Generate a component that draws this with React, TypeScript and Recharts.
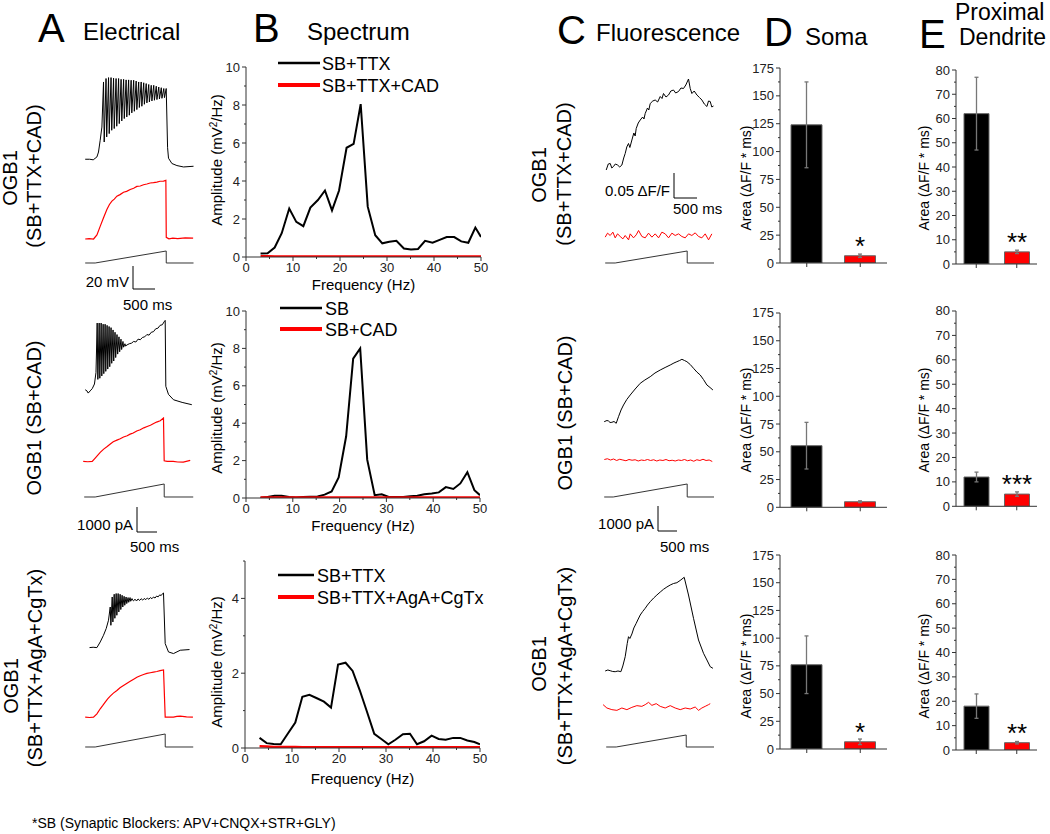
import React from "react";
import {
  LineChart,
  Line,
  XAxis,
  YAxis,
  BarChart,
  Bar,
  Cell,
  ErrorBar,
  LabelList,
} from "recharts";

const FONT = "'Liberation Sans', Arial, Helvetica, sans-serif";
const RED = "#ff0000";

// ---------- B: spectra (Hz -> mV^2/Hz) ----------
const freqs = [3.1, 4.6, 6.1, 7.6, 9.2, 10.7, 12.2, 13.7, 15.3, 16.8, 18.3, 19.8, 21.4, 22.9, 24.4, 25.9,
  27.5, 29.0, 30.5, 32.0, 33.6, 35.1, 36.6, 38.1, 39.7, 41.2, 42.7, 44.3, 45.8, 47.3, 48.8, 50.0];

const spec1Ctrl = [0.18, 0.2, 0.5, 1.25, 2.55, 1.85, 1.62, 2.6, 3.0, 3.5, 2.45, 3.5, 5.75, 5.95, 8.05, 2.65,
  1.15, 0.72, 0.8, 0.85, 0.45, 0.4, 0.42, 0.85, 0.75, 0.9, 1.05, 1.05, 0.82, 0.75, 1.55, 1.05];
const spec1Blk = [0.04, 0.04, 0.03, 0.03, 0.03, 0.03, 0.03, 0.03, 0.03, 0.03, 0.03, 0.03, 0.03, 0.03, 0.03, 0.03,
  0.03, 0.03, 0.03, 0.03, 0.03, 0.03, 0.03, 0.03, 0.03, 0.03, 0.03, 0.03, 0.03, 0.03, 0.03, 0.03];

const spec2Ctrl = [0.02, 0.05, 0.12, 0.12, 0.05, 0.03, 0.06, 0.07, 0.08, 0.18, 0.35, 1.1, 3.3, 7.45, 8.0, 2.05,
  0.15, 0.2, 0.06, 0.06, 0.05, 0.1, 0.12, 0.2, 0.24, 0.3, 0.58, 0.48, 0.78, 1.38, 0.42, 0.15];
const spec2Blk = [0.03, 0.03, 0.03, 0.03, 0.03, 0.03, 0.03, 0.03, 0.03, 0.03, 0.03, 0.03, 0.03, 0.03, 0.03, 0.03,
  0.03, 0.03, 0.03, 0.03, 0.03, 0.03, 0.03, 0.03, 0.03, 0.03, 0.03, 0.03, 0.03, 0.03, 0.03, 0.03];

const spec3Ctrl = [0.27, 0.13, 0.11, 0.1, 0.4, 0.68, 1.37, 1.42, 1.33, 1.24, 1.08, 2.23, 2.28, 2.06, 1.55, 0.99,
  0.38, 0.24, 0.1, 0.22, 0.37, 0.38, 0.1, 0.18, 0.33, 0.24, 0.22, 0.27, 0.27, 0.2, 0.16, 0.1];
const spec3Blk = [0.05, 0.04, 0.03, 0.03, 0.03, 0.03, 0.02, 0.02, 0.02, 0.02, 0.02, 0.02, 0.02, 0.02, 0.02, 0.02,
  0.02, 0.02, 0.02, 0.02, 0.02, 0.02, 0.02, 0.02, 0.02, 0.02, 0.02, 0.02, 0.02, 0.02, 0.02, 0.02];

const specLegends = [
  ["SB+TTX", "SB+TTX+CAD"],
  ["SB", "SB+CAD"],
  ["SB+TTX", "SB+TTX+AgA+CgTx"],
];

// ---------- D / E: areas (dF/F * ms) ----------
const barGroups = ["control", "blocker"];
const somaMean = [[124, 6.5], [55.5, 5], [76, 6.5]];
const somaErr = [[38.5, 1.5], [21, 0.8], [26, 2.5]];
const somaSig = [["", "*"], ["", ""], ["", "*"]];
const dendMean = [[62, 5], [12, 5], [18, 3]];
const dendErr = [[15, 0.7], [2, 0.9], [5, 0.5]];
const dendSig = [["", "**"], ["", "***"], ["", "**"]];

// ---------- A: electrical traces [ms, mV] / [ms, pA] ----------
const a1Volt = [
  [0, -65], [100, -65], [182, -65.5], [266, -63], [302, -58.7], [340, -48.5], [379, -37],
  [416, 2.2], [431, -50], [473, 5.2], [488, -45.6], [530, 6], [545, -42.7], [587, 6], [602, -39.8],
  [644, 5.5], [659, -38.3], [701, 5.2], [716, -36.3], [758, 5.2], [773, -34], [815, 4.5], [830, -31.7],
  [872, 4.5], [887, -29.6], [929, 4], [944, -28.2], [986, 4], [1001, -26.7], [1043, 3.7], [1058, -24.7],
  [1100, 3.7], [1115, -23.3], [1157, 3], [1172, -21.8], [1214, 2.2], [1229, -20], [1271, 2.2], [1286, -18.9],
  [1328, 1.5], [1343, -17.2], [1385, 0.8], [1400, -16], [1442, 0], [1457, -15.2], [1499, -0.7], [1514, -14.3],
  [1556, -0.7], [1571, -13.7], [1613, -1.5], [1628, -13.1], [1670, -2.2], [1685, -12.6], [1727, -2.8], [1742, -12],
  [1784, -3.5], [1799, -11.4], [1839, -3.5], [1855, -30], [1870, -55], [1891, -64.1], [1968, -68.7], [2082, -70.5],
  [2232, -71.7], [2459, -71.1],
];
const a2Volt = [
  [0, -65], [40, -66], [68, -67.9], [113, -66], [160, -64], [210, -60], [245, -50],
  [272, -7], [287, -56], [317, -7], [332, -55], [362, -7], [377, -53], [407, -8], [422, -51], [452, -8], [467, -49],
  [497, -9], [512, -47], [542, -10], [557, -45], [587, -11], [602, -42], [632, -13], [647, -40], [677, -15], [692, -37],
  [722, -17], [737, -34], [767, -19], [782, -32], [812, -21], [827, -30], [857, -23], [872, -28], [902, -25], [917, -27],
  [950, -26], [1000, -25], [1050, -24.5], [1100, -23], [1150, -23.5], [1200, -21], [1250, -21.5], [1300, -19.5],
  [1350, -19], [1400, -17], [1450, -17.5], [1500, -15], [1550, -14.5], [1600, -12], [1650, -11.5], [1700, -9],
  [1750, -8.5], [1790, -6], [1816, -4.7], [1830, -62], [1890, -69], [2005, -73.7], [2200, -76], [2420, -78],
];
const a3Volt = [
  [98, -65.3], [180, -65], [266, -65.3], [341, -60.4], [415, -54.6], [477, -48.7], [529, -41.5],
  [568, -30], [583, -45.9], [613, -21.3], [628, -43], [658, -18.9], [673, -39.8], [703, -18.3], [718, -37.2],
  [748, -18.3], [763, -34.3], [793, -18.9], [808, -32.2], [838, -19.8], [853, -30], [883, -20.7], [898, -28.5],
  [928, -21.3], [943, -27], [973, -21.8], [988, -25.9], [1018, -21.8], [1033, -25], [1063, -22.7], [1078, -24.1],
  [1096, -24.7], [1130, -23.2], [1165, -24.8], [1200, -23], [1235, -24.3], [1270, -22.8], [1305, -24], [1340, -22.6],
  [1375, -23.6], [1410, -22.2], [1445, -23.3], [1480, -21.8], [1515, -22.8], [1550, -21.3], [1585, -22.2], [1620, -20.5],
  [1655, -21.2], [1690, -19.5], [1725, -20], [1760, -18.2], [1777, -17.8],
  [1816, -61.8], [1891, -69.1], [2004, -70.5], [2157, -67.6], [2368, -67],
];
const a1Red = [
  [0, -65], [90, -64.6], [190, -65], [266, -61.5], [340, -54], [416, -46.6], [492, -39.4], [550, -35], [606, -32.1],
  [660, -30.3], [719, -27.8], [790, -26.4], [870, -24.3], [940, -23.6], [1022, -22], [1100, -20.9], [1173, -19.3],
  [1250, -18.9], [1324, -17.8], [1400, -17.2], [1475, -16.3], [1550, -16], [1627, -15.5], [1700, -14.8], [1778, -14.6],
  [1831, -14], [1840, -63.5], [1900, -64.8], [1990, -64.3], [2100, -64.6], [2270, -64], [2450, -64.3],
];
const a2Red = [
  [-45, -64.7], [60, -65], [159, -64.7], [227, -61.8], [341, -56.9], [420, -54], [499, -51.7], [570, -49.5], [636, -47.6],
  [720, -46.2], [795, -45], [870, -43.5], [953, -42.4], [1020, -41], [1090, -40], [1170, -38.3], [1249, -37.2],
  [1330, -35.5], [1407, -34.3], [1480, -33.3], [1544, -32], [1620, -30.5], [1703, -29.3], [1777, -27],
  [1793, -64.1], [1861, -64.7], [1998, -64.7], [2100, -65.2], [2225, -65.3], [2384, -63.8],
];
const a3Red = [
  [0, -64.7], [100, -65], [188, -64.7], [266, -61.8], [341, -57.4], [400, -54.5], [454, -51.6], [510, -48.8],
  [568, -46.4], [640, -43.8], [720, -41.5], [790, -39.2], [869, -37.2], [950, -35.2], [1022, -33.5], [1100, -31.7],
  [1173, -30], [1250, -28.7], [1324, -27.6], [1400, -26.7], [1476, -26.1], [1550, -25.5], [1627, -25], [1700, -24.3],
  [1778, -23.6], [1816, -64.7], [1900, -64.7], [2004, -64.7], [2080, -64], [2157, -63.8], [2300, -64.5], [2445, -64.7],
];
const a1Ramp = [[0, 0], [227, 0], [1839, 480], [1840, 0], [2459, 0]];
const a2Ramp = [[-23, 0], [227, 0], [1793, 520], [1794, 0], [2452, 0]];
const a3Ramp = [[0, 0], [227, 0], [1816, 520], [1817, 0], [2452, 0]];

// ---------- C: fluorescence traces [ms, % dF/F] ----------
const c1Fluo = [
  [23, 0], [70, 1.2], [114, 1.3], [150, 0.4], [188, 0.7], [230, 1.2], [279, 1], [330, 0.6], [379, 1], [420, 2.4],
  [454, 3.3], [490, 4.6], [529, 5.3], [560, 4.5], [606, 6], [650, 7.4], [680, 6.8], [704, 8.3], [750, 9.4], [795, 10],
  [850, 10.6], [880, 10.2], [908, 11.3], [960, 12.4], [990, 12], [1022, 13.3], [1080, 13.8], [1135, 14], [1190, 13.6],
  [1249, 14.7], [1290, 14.3], [1323, 15.3], [1380, 14.6], [1437, 15], [1490, 15.8], [1550, 16], [1600, 15.4],
  [1664, 15.7], [1720, 16.4], [1777, 16.3], [1830, 17], [1891, 18.2], [1930, 16.3], [1968, 15.3], [2020, 15.8],
  [2082, 15], [2140, 14.5], [2195, 14], [2250, 13.2], [2309, 12.7], [2345, 13.8], [2384, 13.7], [2420, 12.6], [2458, 12.8],
];
const c2Fluo = [
  [-23, 0.06], [40, 0.3], [75, 0.2], [110, -0.1], [152, -0.06], [200, 0.1], [250, -0.26], [302, 1.06], [360, 2.4],
  [416, 3.4], [490, 4.5], [568, 5.4], [680, 6.6], [795, 7.74], [900, 8.4], [1022, 9.06], [1130, 9.8], [1249, 10.4],
  [1360, 10.9], [1476, 11.4], [1560, 11.8], [1627, 12.06], [1690, 12.3], [1741, 12.54], [1800, 12.3], [1854, 12.06],
  [1930, 11.5], [2005, 10.74], [2080, 10], [2157, 9.4], [2230, 8.5], [2309, 7.4], [2380, 6.9], [2445, 6.4],
];
const c3Fluo = [
  [0, 0], [60, 0.2], [113, 0.06], [170, -0.1], [227, -0.14], [290, 0], [356, -0.14], [400, 1], [454, 2.86], [500, 5.5],
  [529, 6.86], [560, 6.5], [606, 7.4], [650, 8.6], [704, 9.54], [750, 10.4], [795, 11.2], [850, 11.9], [908, 12.54],
  [960, 13.2], [1022, 13.86], [1100, 14.6], [1173, 15.2], [1250, 15.8], [1323, 16.34], [1400, 16.8], [1476, 17.2],
  [1550, 17.5], [1627, 17.66], [1700, 18.1], [1793, 18.74], [1891, 15.2], [2005, 10.54], [2118, 6.2], [2232, 3.54],
  [2309, 2.2], [2384, 0.86], [2445, 0.54],
];
const c1Red = [
  [0, -0.43], [53, 0.37], [113, -0.1], [174, 0.57], [227, -0.57], [280, 0.23], [341, -0.3], [401, -0.77], [454, -0.1],
  [530, -0.97], [568, 0.23], [643, -0.57], [704, 0.03], [757, 0.9], [833, -0.3], [908, -0.57], [984, 0.37], [1060, -0.43],
  [1135, 0.23], [1211, -0.57], [1287, 0.57], [1362, 0.23], [1438, -0.57], [1514, 0.37], [1589, -0.1], [1665, 0.23],
  [1740, -0.3], [1816, -0.57], [1892, 0.23], [1967, -0.1], [2043, 0.43], [2119, -0.3], [2194, -0.57], [2270, 0.23],
  [2346, -0.97], [2421, 0.23],
];
const c2Red = [
  [-20, 0.1], [50, 0.25], [120, 0], [190, 0.2], [260, -0.1], [330, 0.15], [400, 0], [470, -0.15], [540, 0.1],
  [610, -0.05], [680, 0.05], [750, -0.2], [820, 0], [890, -0.1], [960, 0.1], [1030, -0.1], [1100, 0.05], [1170, -0.2],
  [1240, 0], [1310, -0.1], [1380, 0.1], [1450, -0.15], [1520, -0.05], [1590, -0.2], [1660, 0], [1730, -0.1],
  [1800, 0.1], [1870, -0.15], [1940, 0], [2010, -0.25], [2080, 0.05], [2150, -0.1], [2220, 0.15], [2290, -0.1],
  [2360, 0], [2430, -0.3],
];
const c3Red = [
  [-48, 0.67], [38, 0], [151, -0.33], [265, -0.47], [378, 0], [492, -0.33], [605, 0.13], [719, 0.47], [832, 0.33],
  [908, 0.67], [984, 1.13], [1060, 0.53], [1158, 0.87], [1249, 0.33], [1362, 0], [1476, 0.47], [1589, 0], [1703, -0.33],
  [1816, 0], [1930, -0.2], [2043, 0.2], [2119, -0.47], [2194, 0], [2270, 0.33], [2346, 0.67], [2384, 0.87],
];
const c1Ramp = [[0, 0], [227, 0], [1861, 480], [1862, 0], [2470, 0]];
const c2Ramp = [[-23, 0], [182, 0], [1861, 520], [1862, 0], [2474, 0]];
const c3Ramp = [[23, 0], [250, 0], [1839, 480], [1840, 0], [2474, 0]];

// ---------- layout ----------
const MS_PER_PX = 22.7;
const T_DOM: [number, number] = [-50, 2480];
const TRACE_W = (T_DOM[1] - T_DOM[0]) / MS_PER_PX;

type TraceSpec = {
  pts: number[][];
  x0: number; // page x of t = 0
  k: number; // px per unit
  base: [number, number]; // [value, page y]
  vDom: [number, number];
  color: string;
  sw?: number;
};

const traces: TraceSpec[] = [
  { pts: a1Volt, x0: 85, k: 1.15, base: [-65, 159], vDom: [-80, 10], color: "#000" },
  { pts: a1Red, x0: 85, k: 1.15, base: [-65, 239], vDom: [-75, -5], color: RED, sw: 1.2 },
  { pts: a1Ramp, x0: 85, k: 0.025, base: [0, 263], vDom: [-100, 600], color: "#333" },
  { pts: a2Volt, x0: 85, k: 1.15, base: [-65, 390], vDom: [-85, 0], color: "#000" },
  { pts: a2Red, x0: 85, k: 1.15, base: [-65, 462], vDom: [-75, -20], color: RED, sw: 1.2 },
  { pts: a2Ramp, x0: 85, k: 0.025, base: [0, 497], vDom: [-100, 600], color: "#333" },
  { pts: a3Volt, x0: 85, k: 1.15, base: [-65, 647], vDom: [-80, -10], color: "#000" },
  { pts: a3Red, x0: 85, k: 1.15, base: [-65, 717], vDom: [-75, -15], color: RED, sw: 1.2 },
  { pts: a3Ramp, x0: 85, k: 0.025, base: [0, 747], vDom: [-100, 600], color: "#333" },
  { pts: c1Fluo, x0: 605, k: 5, base: [0, 170], vDom: [-2, 20], color: "#000" },
  { pts: c1Red, x0: 605, k: 5, base: [0, 234.5], vDom: [-3, 3], color: RED },
  { pts: c1Ramp, x0: 605, k: 0.025, base: [0, 263], vDom: [-100, 600], color: "#333" },
  { pts: c2Fluo, x0: 605, k: 5, base: [0, 422], vDom: [-2, 14], color: "#000" },
  { pts: c2Red, x0: 605, k: 5, base: [0, 460], vDom: [-3, 3], color: RED },
  { pts: c2Ramp, x0: 605, k: 0.025, base: [0, 497], vDom: [-100, 600], color: "#333" },
  { pts: c3Fluo, x0: 605, k: 5, base: [0, 671], vDom: [-2, 20], color: "#000" },
  { pts: c3Red, x0: 605, k: 5, base: [0, 708.3], vDom: [-3, 3], color: RED },
  { pts: c3Ramp, x0: 605, k: 0.025, base: [0, 747], vDom: [-100, 600], color: "#333" },
];

function Trace({ spec }: { spec: TraceSpec }) {
  const { pts, x0, k, base, vDom, color, sw = 1 } = spec;
  const data = pts.map(([t, v]) => ({ t, v }));
  const top = base[1] - (vDom[1] - base[0]) * k;
  const height = (vDom[1] - vDom[0]) * k;
  const left = x0 + T_DOM[0] / MS_PER_PX;
  return (
    <div style={{ position: "absolute", left, top }}>
      <LineChart width={TRACE_W} height={height} data={data} margin={{ top: 0, right: 0, bottom: 0, left: 0 }}>
        <XAxis dataKey="t" type="number" domain={T_DOM} hide allowDataOverflow />
        <YAxis type="number" domain={vDom} hide allowDataOverflow />
        <Line dataKey="v" type="linear" stroke={color} strokeWidth={sw} dot={false} isAnimationActive={false} />
      </LineChart>
    </div>
  );
}

// ticks: draw line + label ourselves (tickSize/tickMargin = 0 so x,y sit on the axis)
const yTick = (isMajor: (v: number) => boolean, fs = 13) => (p: any) => {
  const { x, y, payload } = p;
  const major = isMajor(payload.value);
  return (
    <g>
      <line x1={x} y1={y} x2={x - (major ? 4 : 2)} y2={y} stroke="#333" strokeWidth={1} />
      {major && (
        <text x={x - 6} y={y + 4.5} textAnchor="end" fontSize={fs} fill="#222" fontFamily={FONT}>
          {payload.value}
        </text>
      )}
    </g>
  );
};
const xTick = (isMajor: (v: number) => boolean) => (p: any) => {
  const { x, y, payload } = p;
  const major = isMajor(payload.value);
  return (
    <g>
      <line x1={x} y1={y} x2={x} y2={y + (major ? 4 : 2)} stroke="#333" strokeWidth={1} />
      {major && (
        <text x={x} y={y + 15} textAnchor="middle" fontSize={13} fill="#222" fontFamily={FONT}>
          {payload.value}
        </text>
      )}
    </g>
  );
};
const catTick = (p: any) => (
  <line x1={p.x} y1={p.y} x2={p.x} y2={p.y + 4} stroke="#333" strokeWidth={1} />
);

type Box = { x: number; y: number; w: number; h: number };

const AX_W = 30; // y axis band width
const AX_H = 20; // x axis band height

function Spectrum({ ctrl, blk, box, yMax, yTicks, yMajor }: {
  ctrl: number[]; blk: number[]; box: Box; yMax: number; yTicks: number[]; yMajor: (v: number) => boolean;
}) {
  const data = freqs.map((f, i) => ({ f, a: ctrl[i], b: blk[i] }));
  const T = 10, R = 8;
  return (
    <div style={{ position: "absolute", left: box.x - AX_W - 2, top: box.y - T }}>
      <LineChart width={box.w + AX_W + 2 + R} height={box.h + T + AX_H + 2} data={data}
        margin={{ top: T, right: R, bottom: 2, left: 2 }}>
        <XAxis dataKey="f" type="number" domain={[0, 50]} ticks={[0, 5, 10, 15, 20, 25, 30, 35, 40, 45, 50]}
          interval={0} height={AX_H} tickSize={0} tickMargin={0} tickLine={false} stroke="#333"
          tick={xTick((v) => v % 10 === 0)} allowDataOverflow />
        <YAxis type="number" domain={[0, yMax]} ticks={yTicks} interval={0} width={AX_W} tickSize={0}
          tickMargin={0} tickLine={false} stroke="#333" tick={yTick(yMajor)} allowDataOverflow />
        <Line dataKey="a" type="linear" stroke="#000" strokeWidth={2} dot={false} isAnimationActive={false} />
        <Line dataKey="b" type="linear" stroke={RED} strokeWidth={2.5} dot={false} isAnimationActive={false} />
      </LineChart>
    </div>
  );
}

const starLabel = (p: any) => {
  const { x, y, width, value } = p;
  if (!value) return null;
  return (
    <text x={x + width / 2} y={y - 1} textAnchor="middle" fontSize={26} fill="#000" fontFamily={FONT}>
      {value}
    </text>
  );
};

function AreaBars({ means, errs, sig, box, yMax, step, major, barSize }: {
  means: number[]; errs: number[]; sig: string[]; box: Box; yMax: number; step: number; major: number; barSize: number;
}) {
  const data = barGroups.map((g, i) => ({ g, m: means[i], e: errs[i], s: sig[i] }));
  const ticks: number[] = [];
  for (let v = 0; v <= yMax + 1e-6; v += step) ticks.push(v);
  const T = 10, R = 6, XH = 10;
  return (
    <div style={{ position: "absolute", left: box.x - AX_W - 2, top: box.y - T }}>
      <BarChart width={box.w + AX_W + 2 + R} height={box.h + T + XH + 2} data={data} barSize={barSize}
        margin={{ top: T, right: R, bottom: 2, left: 2 }}>
        <XAxis dataKey="g" height={XH} tickSize={0} tickMargin={0} tickLine={false} interval={0}
          stroke="#333" tick={catTick} />
        <YAxis type="number" domain={[0, yMax]} ticks={ticks} interval={0} width={AX_W} tickSize={0}
          tickMargin={0} tickLine={false} stroke="#333" tick={yTick((v) => Math.abs(v % major) < 1e-6)}
          allowDataOverflow />
        <Bar dataKey="m" stroke="#666" strokeWidth={1} isAnimationActive={false}>
          {data.map((d, i) => (
            <Cell key={d.g} fill={i === 0 ? "#000" : RED} />
          ))}
          <ErrorBar dataKey="e" width={2} stroke="#777" strokeWidth={1.3} direction="y" />
          <LabelList dataKey="s" content={starLabel} />
        </Bar>
      </BarChart>
    </div>
  );
}

const specBoxes: Box[] = [
  { x: 246, y: 67, w: 235, h: 190 },
  { x: 246, y: 311, w: 234, h: 187 },
  { x: 245, y: 561, w: 235, h: 187 },
];
const somaBoxes: Box[] = [
  { x: 780, y: 68, w: 107, h: 195 },
  { x: 780, y: 312.7, w: 107, h: 194.3 },
  { x: 780, y: 555, w: 107, h: 194 },
];
const dendBoxes: Box[] = [
  { x: 956, y: 70, w: 81, h: 194 },
  { x: 956, y: 310.7, w: 81, h: 195.3 },
  { x: 956, y: 555, w: 81, h: 195 },
];
const rowMid = [176, 418, 664];

function VText({ x, y, size, children }: { x: number; y: number; size: number; children: React.ReactNode }) {
  return (
    <text transform={`translate(${x},${y}) rotate(-90)`} textAnchor="middle" fontSize={size} fontFamily={FONT} fill="#000">
      {children}
    </text>
  );
}

function ScaleBar({ x, y, w, h, vLabel, hLabel, hx, hy }: {
  x: number; y: number; w: number; h: number; vLabel: string; hLabel: string; hx: number; hy: number;
}) {
  return (
    <g fontFamily={FONT} fontSize={15}>
      <line x1={x} y1={y - h} x2={x} y2={y} stroke="#000" strokeWidth={1} />
      <line x1={x} y1={y} x2={x + w} y2={y} stroke="#000" strokeWidth={1} />
      <text x={x - 4} y={y - 2} textAnchor="end">{vLabel}</text>
      <text x={hx} y={hy}>{hLabel}</text>
    </g>
  );
}

function Overlay() {
  const legendRows = [
    { y1: 63, y2: 85, tx: 322, l0: 278, l1: 320 },
    { y1: 308, y2: 329, tx: 325, l0: 280, l1: 322 },
    { y1: 575, y2: 597, tx: 317, l0: 278, l1: 314 },
  ];
  return (
    <svg width={1050} height={834} style={{ position: "absolute", left: 0, top: 0, pointerEvents: "none" }}>
      <g fontFamily={FONT} fill="#000">
        <text x={38} y={42} fontSize={40}>A</text>
        <text x={83} y={40} fontSize={24}>Electrical</text>
        <text x={253} y={42} fontSize={40}>B</text>
        <text x={307} y={40} fontSize={24}>Spectrum</text>
        <text x={557} y={44} fontSize={40}>C</text>
        <text x={596} y={41} fontSize={24}>Fluorescence</text>
        <text x={764} y={46} fontSize={40}>D</text>
        <text x={805} y={45} fontSize={24}>Soma</text>
        <text x={919} y={48} fontSize={40}>E</text>
        <text x={955} y={20} fontSize={23}>Proximal</text>
        <text x={959} y={45} fontSize={23}>Dendrite</text>
      </g>

      {/* row labels */}
      <VText x={17} y={178} size={20}>OGB1</VText>
      <VText x={41} y={176} size={20}>(SB+TTX+CAD)</VText>
      <VText x={41} y={418} size={20}>OGB1 (SB+CAD)</VText>
      <VText x={18} y={686} size={20}>OGB1</VText>
      <VText x={42} y={668} size={20}>(SB+TTX+AgA+CgTx)</VText>
      <VText x={546} y={175} size={20}>OGB1</VText>
      <VText x={571} y={174} size={20}>(SB+TTX+CAD)</VText>
      <VText x={572} y={413} size={20}>OGB1 (SB+CAD)</VText>
      <VText x={546} y={664} size={20}>OGB1</VText>
      <VText x={572} y={666} size={20}>(SB+TTX+AgA+CgTx)</VText>

      {/* spectrum axis titles + legends */}
      {specBoxes.map((b, i) => (
        <g key={i}>
          <VText x={222} y={[160, 408, 662][i]} size={15}>
            Amplitude (mV<tspan dy={-5} fontSize={10}>2</tspan><tspan dy={5}>/Hz)</tspan>
          </VText>
          <text x={b.x + b.w / 2} y={[290, 531, 784][i]} textAnchor="middle" fontSize={15} fontFamily={FONT}>
            Frequency (Hz)
          </text>
          <line x1={legendRows[i].l0} x2={legendRows[i].l1} y1={legendRows[i].y1} y2={legendRows[i].y1} stroke="#000" strokeWidth={2.5} />
          <line x1={legendRows[i].l0} x2={legendRows[i].l1} y1={legendRows[i].y2} y2={legendRows[i].y2} stroke={RED} strokeWidth={4} />
          <text x={legendRows[i].tx} y={legendRows[i].y1 + 6.5} fontSize={18} fontFamily={FONT}>{specLegends[i][0]}</text>
          <text x={legendRows[i].tx} y={legendRows[i].y2 + 6.5} fontSize={18} fontFamily={FONT}>{specLegends[i][1]}</text>
        </g>
      ))}

      {/* bar axis titles */}
      {rowMid.map((m, i) => (
        <g key={i}>
          <VText x={751} y={m + 2} size={14}>Area (ΔF/F * ms)</VText>
          <VText x={929} y={m + 2} size={14}>Area (ΔF/F * ms)</VText>
        </g>
      ))}

      {/* scale bars */}
      <ScaleBar x={133} y={289} w={22} h={23} vLabel="20 mV" hLabel="500 ms" hx={123} hy={310} />
      <ScaleBar x={137} y={532} w={20} h={25} vLabel="1000 pA" hLabel="500 ms" hx={130} hy={552} />
      <ScaleBar x={674} y={198} w={23} h={25} vLabel="0.05 ΔF/F" hLabel="500 ms" hx={673} hy={214} />
      <ScaleBar x={658} y={531} w={19} h={25} vLabel="1000 pA" hLabel="500 ms" hx={660} hy={552} />

      <text x={32} y={828} fontSize={14} fontFamily={FONT}>*SB (Synaptic Blockers: APV+CNQX+STR+GLY)</text>
    </svg>
  );
}

export default function App() {
  const specs = [
    { ctrl: spec1Ctrl, blk: spec1Blk, yMax: 10 },
    { ctrl: spec2Ctrl, blk: spec2Blk, yMax: 10 },
    { ctrl: spec3Ctrl, blk: spec3Blk, yMax: 5 },
  ];
  return (
    <div style={{ position: "absolute", left: 0, top: 0, width: 1050, height: 834, background: "#fff", fontFamily: FONT }}>
      {traces.map((t, i) => (
        <Trace key={i} spec={t} />
      ))}
      {specs.map((s, i) => (
        <Spectrum key={i} ctrl={s.ctrl} blk={s.blk} box={specBoxes[i]} yMax={s.yMax}
          yTicks={s.yMax === 10 ? [0, 1, 2, 3, 4, 5, 6, 7, 8, 9, 10] : [0, 1, 2, 3, 4, 5]}
          yMajor={(v) => v % 2 === 0} />
      ))}
      {somaBoxes.map((b, i) => (
        <AreaBars key={"s" + i} means={somaMean[i]} errs={somaErr[i]} sig={somaSig[i]} box={b}
          yMax={175} step={12.5} major={25} barSize={31} />
      ))}
      {dendBoxes.map((b, i) => (
        <AreaBars key={"d" + i} means={dendMean[i]} errs={dendErr[i]} sig={dendSig[i]} box={b}
          yMax={80} step={5} major={10} barSize={25} />
      ))}
      <Overlay />
    </div>
  );
}
